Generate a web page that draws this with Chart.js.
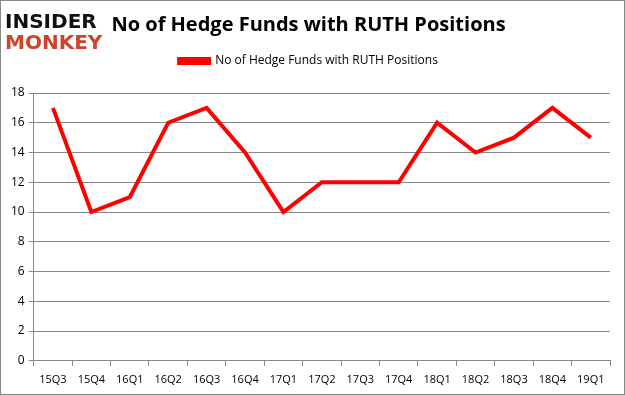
<!DOCTYPE html>
<html>
<head>
<meta charset="utf-8">
<script src="https://cdn.jsdelivr.net/npm/chart.js@4"></script>
<style>
  html, body { margin: 0; padding: 0; background: #fff; }
  #wrap { position: relative; width: 623px; height: 393px; border: 1px solid #888; }
</style>
</head>
<body>
<div id="wrap"><canvas id="chart" width="623" height="393"></canvas></div>
<script>
// quarters and hedge fund counts
const quarters = ["15Q3", "15Q4", "16Q1", "16Q2", "16Q3", "16Q4", "17Q1", "17Q2", "17Q3", "17Q4", "18Q1", "18Q2", "18Q3", "18Q4", "19Q1"];
const fundCounts = [17, 10, 11, 16, 17, 14, 10, 12, 12, 12, 16, 14, 15, 17, 15];
const seriesName = "No of Hedge Funds with RUTH Positions";

// draws the Insider Monkey logo in the top-left corner
const logoPlugin = {
    id: "logo",
    afterDraw(chart) {
        const ctx = chart.ctx;
        ctx.save();
        ctx.textBaseline = "alphabetic";
        ctx.font = "bold 20px 'DejaVu Sans'";
        ctx.fillStyle = "#111";
        ctx.fillText("INSIDER", 4, 27);
        ctx.fillStyle = "#d0432b";
        ctx.fillText("MONKEY", 4, 48);
        ctx.restore();
    }
};

// extra room under the legend, like the original
const legendGap = {
    id: "legendGap",
    beforeInit(chart) {
        const fit = chart.legend.fit;
        chart.legend.fit = function () {
            fit.bind(chart.legend)();
            this.height += 16;
        };
    }
};

new Chart(document.getElementById("chart"), {
    type: "line",
    data: {
        labels: quarters,
        datasets: [{
            label: seriesName,
            data: fundCounts,
            borderColor: "#ff0000",
            backgroundColor: "#ff0000",
            borderWidth: 4,
            pointRadius: 0,
            tension: 0
        }]
    },
    options: {
        responsive: false,
        animation: false,
        layout: { padding: { left: 6, right: 14, top: 0, bottom: 1 } },
        plugins: {
            title: {
                display: true,
                text: "No of Hedge Funds with RUTH Positions",
                color: "#000",
                font: { family: "'Open Sans'", size: 20, weight: "bold" },
                padding: { top: 12, bottom: 10 }
            },
            legend: {
                display: true,
                labels: {
                    color: "#000",
                    font: { family: "'Open Sans'", size: 12 },
                    boxWidth: 30,
                    boxHeight: 4,
                    padding: 8
                }
            },
            tooltip: { enabled: false }
        },
        scales: {
            x: {
                offset: true,
                grid: {
                    offset: true,
                    drawOnChartArea: false,
                    color: "#888",
                    tickLength: 5
                },
                border: { color: "#888" },
                ticks: {
                    color: "#000",
                    font: { family: "'Open Sans'", size: 11 },
                    maxRotation: 0,
                    padding: 7
                }
            },
            y: {
                min: 0,
                max: 18,
                grid: { color: "#888", tickLength: 5 },
                border: { color: "#888" },
                ticks: {
                    stepSize: 2,
                    color: "#000",
                    font: { family: "'Open Sans'", size: 12 },
                    padding: 4
                }
            }
        }
    },
    plugins: [logoPlugin, legendGap]
});
</script>
</body>
</html>
